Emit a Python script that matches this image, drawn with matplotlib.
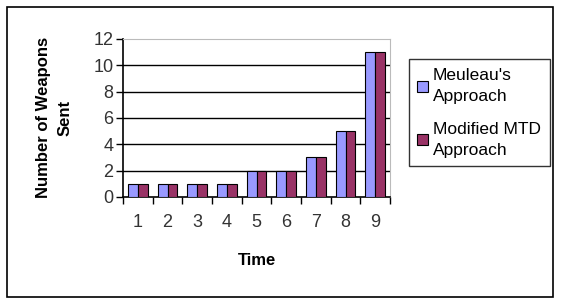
import numpy as np
import matplotlib.pyplot as plt
from matplotlib.patches import Rectangle

plt.rcParams['font.family'] = ['Liberation Sans', 'DejaVu Sans']

# data
times = [1, 2, 3, 4, 5, 6, 7, 8, 9]
meuleau = [1, 1, 1, 1, 2, 2, 3, 5, 11]
modified_mtd = [1, 1, 1, 1, 2, 2, 3, 5, 11]
labels = ["Meuleau's\nApproach", "Modified MTD\nApproach"]

fig = plt.figure(figsize=(5.62, 3.02), dpi=100)
ax = fig.add_axes([0.219, 0.348, 0.475, 0.523])

# outer chart border
fig.patches.append(Rectangle((7 / 562, 5 / 302), 546 / 562, 290 / 302,
                             transform=fig.transFigure, fill=False,
                             edgecolor='black', linewidth=1.2))

x = np.array(times)
w = 0.33
ax.bar(x - w / 2, meuleau, w, color='#9999FF', edgecolor='black',
       linewidth=0.8, label=labels[0], zorder=3)
ax.bar(x + w / 2, modified_mtd, w, color='#993366', edgecolor='black',
       linewidth=0.8, label=labels[1], zorder=3)

ax.set_xlim(0.5, 9.5)
ax.set_ylim(0, 12)
ax.set_yticks(range(0, 13, 2))
ax.set_xticks(times)
ax.set_xticks(np.arange(0.5, 10, 1), minor=True)
ax.tick_params(axis='x', which='major', length=0, pad=12, labelsize=13)
ax.tick_params(axis='x', which='minor', length=5, width=1, direction='out')
ax.tick_params(axis='y', length=5, width=1, direction='out', labelsize=13,
               pad=2)
for t in ax.get_yticklabels() + ax.get_xticklabels():
    t.set_color('#333333')

for yv in range(2, 12, 2):
    ax.axhline(yv, color='black', linewidth=1, zorder=1)

ax.spines['top'].set_color('#bbbbbb')
ax.spines['right'].set_color('#bbbbbb')
ax.spines['left'].set_linewidth(1.2)
ax.spines['bottom'].set_linewidth(1.2)

ax.set_xlabel('Time', fontsize=12, fontweight='bold', labelpad=16)
ax.set_ylabel('Number of Weapons\nSent', fontsize=12, fontweight='bold',
              labelpad=15, linespacing=1.5)

leg = ax.legend(loc='upper left', bbox_to_anchor=(1.07, 0.87),
                fontsize=12.5, frameon=True, fancybox=False, handlelength=0.6,
                handleheight=0.6, handletextpad=0.3, borderpad=0.5,
                labelspacing=1.0, borderaxespad=0)
for t in leg.get_texts():
    t.set_linespacing(1.5)
leg.get_frame().set_edgecolor('black')
leg.get_frame().set_linewidth(1)

fig.savefig('out.png', dpi=100)
